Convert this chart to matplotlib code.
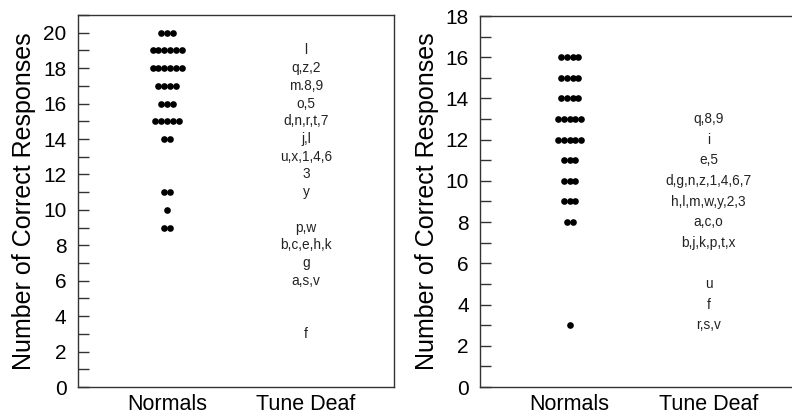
import numpy as np
import matplotlib.pyplot as plt
from matplotlib.ticker import MultipleLocator

plt.rcParams['font.family'] = ['Liberation Sans', 'DejaVu Sans']

categories = ["Normals", "Tune Deaf"]

# left panel: normals as stacked dots (score, number of subjects)
left_norm_scores = [20, 19, 18, 17, 16, 15, 14, 11, 10, 9]
left_norm_counts = [3, 6, 6, 4, 3, 5, 2, 2, 1, 2]
# left panel: tune deaf subjects labelled by id at their score
left_td_scores = [19, 18, 17, 16, 15, 14, 13, 12, 11, 9, 8, 7, 6, 3]
left_td_labels = ["l", "q,z,2", "m.8,9", "o,5", "d,n,r,t,7", "j,l", "u,x,1,4,6",
                  "3", "y", "p,w", "b,c,e,h,k", "g", "a,s,v", "f"]

# right panel
right_norm_scores = [16, 15, 14, 13, 12, 11, 10, 9, 8, 3]
right_norm_counts = [4, 4, 4, 5, 5, 3, 3, 3, 2, 1]
right_td_scores = [13, 12, 11, 10, 9, 8, 7, 5, 4, 3]
right_td_labels = ["q,8,9", "i", "e,5", "d,g,n,z,1,4,6,7", "h,l,m,w,y,2,3",
                   "a,c,o", "b,j,k,p,t,x", "u", "f", "r,s,v"]

W, H = 792, 419
fig = plt.figure(figsize=(W / 100, H / 100), dpi=100)

def panel(rect, ymax, norm_scores, norm_counts, td_scores, td_labels):
    ax = fig.add_axes(rect)
    ax.set_xlim(0.355, 2.633)
    ax.set_ylim(0, ymax)
    step = 0.042  # horizontal spacing between tied dots
    for s, n in zip(norm_scores, norm_counts):
        xs = 1 + (np.arange(n) - (n - 1) / 2) * step
        ax.plot(xs, [s] * n, 'o', color='black', ms=4.8, mec='none')
    for s, lab in zip(td_scores, td_labels):
        ax.text(2, s, lab, ha='center', va='center', fontsize=9.8, color='#222222')
    ax.set_xticks([1, 2])
    ax.set_xticklabels(categories, fontsize=15.5)
    ax.tick_params(axis='x', length=0, pad=5)
    ax.yaxis.set_major_locator(MultipleLocator(2))
    ax.yaxis.set_minor_locator(MultipleLocator(1))
    ax.tick_params(axis='y', which='both', direction='in', length=8, width=1,
                   color='#333333', labelsize=15, pad=8)
    ax.set_ylabel("Number of Correct Responses", fontsize=18, labelpad=5)
    for sp in ax.spines.values():
        sp.set_color('#333333')
        sp.set_linewidth(1)
    return ax

panel([77.5 / W, 32 / H, 316.5 / W, 372 / H], 21,
      left_norm_scores, left_norm_counts, left_td_scores, left_td_labels)
panel([480 / W, 32 / H, 316.5 / W, 371 / H], 18,
      right_norm_scores, right_norm_counts, right_td_scores, right_td_labels)

fig.savefig("out.png", dpi=100)
